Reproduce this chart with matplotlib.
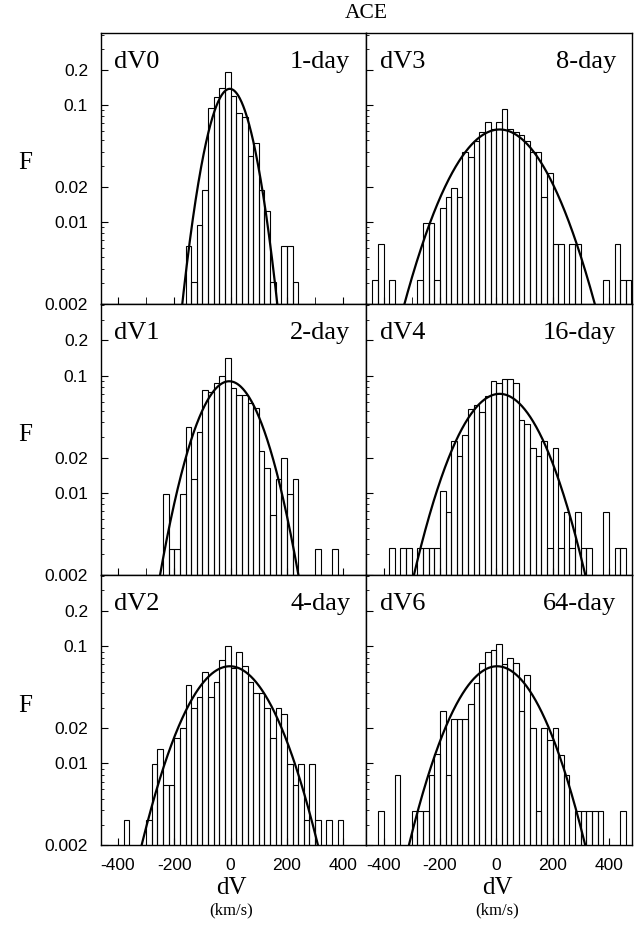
import numpy as np
import matplotlib.pyplot as plt

# left edges of the 20 km/s bins
bin_left = np.arange(-440, 480, 20)

# fraction per bin (k = -22 .. 23)
f_dv0 = [0, 0, 0, 0, 0, 0, 0, 0, 0, 0, 0, 0, 0, 0,
         0.0062, 0.0031, 0.0094, 0.0187, 0.094, 0.116, 0.139, 0.191, 0.119, 0.085,
         0.079, 0.037, 0.047, 0.0187, 0.0124, 0.0031, 0, 0.0062, 0.0062, 0.0031,
         0, 0, 0, 0, 0, 0, 0, 0, 0, 0, 0, 0]
f_dv1 = [0, 0, 0, 0, 0, 0, 0, 0, 0, 0,
         0.0098, 0.0033, 0.0033, 0.0098, 0.0363, 0.0131, 0.033, 0.0762, 0.0723, 0.0858,
         0.099, 0.142, 0.0788, 0.069, 0.069, 0.0586, 0.0532, 0.0229, 0.0163, 0.0065,
         0.0131, 0.0199, 0.0098, 0.0131, 0, 0, 0, 0.0033, 0, 0, 0.0033,
         0, 0, 0, 0, 0]
f_dv2 = [0, 0, 0,
         0.0033, 0, 0, 0, 0.0033, 0.0099, 0.0133, 0.0066, 0.0066, 0.0166, 0.020,
         0.047, 0.0297, 0.0368, 0.060, 0.0368, 0.050, 0.077, 0.101, 0.065, 0.090,
         0.0673, 0.050, 0.0398, 0.0398, 0.0297, 0.0166, 0.0297, 0.0265, 0.0099, 0.0066,
         0.0099, 0.0033, 0.0099, 0.0033, 0, 0.0033, 0, 0.0033,
         0, 0, 0, 0]
f_dv3 = [0.0032, 0.0065, 0, 0.0032, 0, 0, 0, 0, 0.0032, 0.0098, 0.0098, 0.0032,
         0.0131, 0.0164, 0.0197, 0.0164, 0.0395, 0.0363, 0.049, 0.059, 0.072, 0.063,
         0.072, 0.093, 0.063, 0.059, 0.056, 0.049, 0.0395, 0.0395, 0.0164, 0.0265,
         0.0065, 0.0065, 0, 0.0065, 0.0065, 0, 0, 0, 0, 0.0032, 0, 0.0065, 0.0032, 0.0032]
f_dv4 = [0, 0, 0,
         0.0034, 0, 0.0034, 0.0034, 0, 0.0034, 0.0034, 0.0034, 0.0034, 0.0103, 0.0069,
         0.0276, 0.0208, 0.031, 0.052, 0.056, 0.0488, 0.0669, 0.0898, 0.087, 0.094,
         0.094, 0.087, 0.0417, 0.0383, 0.0242, 0.0208, 0.0276, 0.0034, 0.0242, 0.0034,
         0.0069, 0.0034, 0.0069, 0.0034, 0.0034, 0, 0, 0.0069, 0, 0.0034, 0.0034, 0]
f_dv6 = [0, 0.0039, 0, 0, 0.0079, 0, 0, 0.0039, 0.0039, 0.0039, 0.008, 0.012,
         0.028, 0.008, 0.0239, 0.0239, 0.0239, 0.032, 0.0485, 0.072, 0.0887, 0.0935,
         0.105, 0.071, 0.080, 0.072, 0.028, 0.0564, 0.0199, 0.0039, 0.0199, 0.0159,
         0.0199, 0.0118, 0.008, 0, 0.0039, 0.0039, 0.0039, 0.0039, 0.0039, 0, 0, 0,
         0.0039, 0]

# gaussian fits (mean, sigma in km/s)
fit_mu = [-3, -5, -3, 12, 12, 3]
fit_sigma = [58, 89, 118, 129, 114, 118]

names = ["dV0", "dV1", "dV2", "dV3", "dV4", "dV6"]
lags = ["1-day", "2-day", "4-day", "8-day", "16-day", "64-day"]
freqs = [f_dv0, f_dv1, f_dv2, f_dv3, f_dv4, f_dv6]

ytick_vals = [0.002, 0.01, 0.02, 0.1, 0.2]
ytick_labels = ["0.002", "0.01", "0.02", "0.1", "0.2"]
xtick_vals = [-400, -200, 0, 200, 400]

serif = "Liberation Serif"
sans = "Liberation Sans"

fig, axes = plt.subplots(3, 2, figsize=(6.41, 9.25), dpi=100, sharex=True, sharey=True)
fig.subplots_adjust(left=0.1568, right=0.9855, bottom=0.0862, top=0.964,
                    wspace=0, hspace=0)

minor_y = [m * 10.0**e for e in (-3, -2, -1) for m in range(2, 10)]
minor_y = [v for v in minor_y if 0.002 <= v <= 0.41]

for i in range(6):
    ax = axes[i % 3, i // 3]
    ax.set_yscale("log")
    h = np.array(freqs[i])
    keep = h > 0
    ax.bar(bin_left[keep], h[keep] - 0.001, width=20, bottom=0.001, align="edge",
           fill=False, edgecolor="black", linewidth=0.8)
    xs = np.linspace(-480, 500, 800)
    amp = 20 / (fit_sigma[i] * np.sqrt(2 * np.pi))
    ax.plot(xs, amp * np.exp(-(xs - fit_mu[i])**2 / (2 * fit_sigma[i]**2)),
            color="black", linewidth=1.6)
    ax.text(0.052, 0.893, names[i], transform=ax.transAxes, fontsize=19,
            family=serif, ha="left", va="center")
    ax.text(0.94, 0.893, lags[i], transform=ax.transAxes, fontsize=19,
            family=serif, ha="right", va="center")
    for s in ax.spines.values():
        s.set_linewidth(1.0)

ax0 = axes[0, 0]
ax0.set_xlim(-462, 481)
ax0.set_ylim(0.002, 0.41)
ax0.set_yticks(ytick_vals, ytick_labels)
ax0.set_yticks(minor_y, minor=True)
ax0.set_xticks(xtick_vals, [str(v) for v in xtick_vals])
ax0.set_xticks([-300, -100, 100, 300], minor=True)

for ax in axes.flat:
    ax.tick_params(which="both", direction="in", top=False, right=False,
                   labelsize=12.5, pad=9)
    ax.tick_params(which="major", length=5)
    ax.tick_params(axis="y", which="minor", length=2.5)
    ax.tick_params(axis="x", which="minor", length=5)
    for lab in ax.get_xticklabels() + ax.get_yticklabels():
        lab.set_family(sans)
for ax in axes[:, 1]:
    ax.tick_params(labelleft=False)

fig.text(0.5 * (0.1568 + 0.9855), 1 - 14 / 925, "ACE", fontsize=15.5, family=serif,
         ha="center", va="center")
for r, yc in enumerate([163, 435, 706]):
    fig.text(25 / 641, 1 - yc / 925, "F", fontsize=18, family=serif,
             ha="center", va="center")
for xc in (231, 497):
    fig.text(xc / 641, 1 - 888 / 925, "dV", fontsize=18, family=serif,
             ha="center", va="center")
    fig.text(xc / 641, 1 - 910 / 925, "(km/s)", fontsize=12, family=serif,
             ha="center", va="center")

plt.savefig("out.png", dpi=100)
